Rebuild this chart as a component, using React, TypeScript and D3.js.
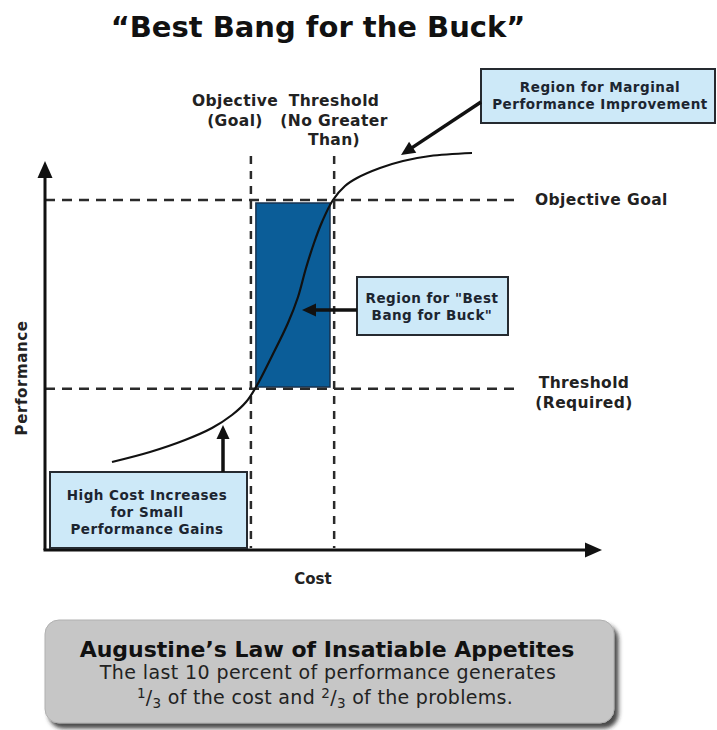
import React from "react";
import * as d3 from "d3";

// ---- data (cost / performance in arbitrary 0–100 units) ----
const curveCost = [12.07, 18.92, 25.23, 30.09, 33.69, 36.22, 38.02, 40.9, 43.78, 45.59, 47.03, 48.47, 49.91, 51.89, 54.05, 56.22, 60.36, 64.5, 69.37, 76.94];
const curvePerf = [22.0, 24.5, 27.5, 30.5, 33.75, 37.0, 40.75, 48.5, 56.75, 63.25, 70.5, 76.75, 82.0, 87.5, 91.0, 93.0, 95.5, 97.25, 98.5, 99.25];
const refCosts = [37.1, 52.1]; // Objective (Goal), Threshold (No Greater Than)
const refPerfs = [87.5, 40.3]; // Objective Goal, Threshold (Required)
const bestRegionCost = [38.0, 51.35];
const bestRegionPerf = [40.75, 86.75];

const W = 717;
const H = 730;
const FONT = "Verdana, 'DejaVu Sans', sans-serif";

export default function App() {
  const x = d3.scaleLinear().domain([0, 100]).range([45, 600]);
  const y = d3.scaleLinear().domain([0, 100]).range([550, 150]);
  const pts: [number, number][] = curveCost.map((c, i) => [c, curvePerf[i]]);
  const line = d3
    .line<[number, number]>()
    .x((d) => x(d[0]))
    .y((d) => y(d[1]))
    .curve(d3.curveCatmullRom.alpha(0.5));

  const boxFill = "#cde9f8";
  const boxStroke = "#252a30";
  const dash = "10,7";

  const arrowHead = (x1: number, y1: number, x2: number, y2: number, len = 13, half = 6) => {
    const a = Math.atan2(y2 - y1, x2 - x1);
    const bx = x2 - len * Math.cos(a);
    const by = y2 - len * Math.sin(a);
    const px = -Math.sin(a) * half;
    const py = Math.cos(a) * half;
    return `M${x2},${y2}L${bx + px},${by + py}L${bx - px},${by - py}Z`;
  };

  const Arrow = ({ x1, y1, x2, y2, w = 3.5, len = 14, half = 6.5 }: any) => {
    const a = Math.atan2(y2 - y1, x2 - x1);
    const ex = x2 - (len - 2) * Math.cos(a);
    const ey = y2 - (len - 2) * Math.sin(a);
    return (
      <g>
        <line x1={x1} y1={y1} x2={ex} y2={ey} stroke="#111" strokeWidth={w} />
        <path d={arrowHead(x1, y1, x2, y2, len, half)} fill="#111" />
      </g>
    );
  };

  const labelStyle = { fontFamily: FONT, fontWeight: 700, fill: "#222" } as const;
  const lbl = { ...labelStyle, fontSize: 15.5, letterSpacing: 0.4 };
  const boxTxt = { ...labelStyle, fontSize: 13.5, letterSpacing: 0.5, fill: "#1c2530" };

  return (
    <svg width={W} height={H} style={{ position: "absolute", left: 0, top: 0, background: "#fff" }}>
      <defs>
        <filter id="sh" x="-10%" y="-10%" width="130%" height="140%">
          <feDropShadow dx="4" dy="5" stdDeviation="2" floodColor="#2a2a2a" floodOpacity="0.85" />
        </filter>
      </defs>

      {/* Title */}
      <text x={318} y={37} textAnchor="middle" style={{ fontFamily: FONT, fontWeight: 700, fontSize: 29, fill: "#111" }}>
        “Best Bang for the Buck”
      </text>

      {/* blue region */}
      <rect
        x={x(bestRegionCost[0])}
        y={y(bestRegionPerf[1])}
        width={x(bestRegionCost[1]) - x(bestRegionCost[0])}
        height={y(bestRegionPerf[0]) - y(bestRegionPerf[1])}
        fill="#0b5d98"
        stroke="#17324f"
        strokeWidth={1.5}
      />

      {/* reference dashed lines */}
      {refPerfs.map((p, i) => (
        <line key={"h" + i} x1={x(0)} x2={518} y1={y(p)} y2={y(p)} stroke="#2a2a2a" strokeWidth={2.5} strokeDasharray={dash} />
      ))}
      {refCosts.map((c, i) => (
        <line key={"v" + i} x1={x(c)} x2={x(c)} y1={156} y2={548} stroke="#2a2a2a" strokeWidth={2.5} strokeDasharray="8,7" />
      ))}

      {/* curve */}
      <path d={line(pts) || ""} fill="none" stroke="#111" strokeWidth={2.2} />

      {/* axes */}
      <line x1={x(0)} y1={y(0)} x2={x(0)} y2={176} stroke="#111" strokeWidth={3} />
      <path d={arrowHead(x(0), 300, x(0), 161, 17, 7.5)} fill="#111" />
      <line x1={x(0) - 1.5} y1={y(0)} x2={588} y2={y(0)} stroke="#111" strokeWidth={3} />
      <path d={arrowHead(300, y(0), 602, y(0), 17, 7.5)} fill="#111" />

      {/* axis titles */}
      <text x={0} y={0} transform="translate(27,378) rotate(-90)" textAnchor="middle" style={{ ...labelStyle, fontSize: 15, letterSpacing: 0.6 }}>
        Performance
      </text>
      <text x={313} y={584} textAnchor="middle" style={{ ...labelStyle, fontSize: 15 }}>
        Cost
      </text>

      {/* vertical line labels */}
      <text textAnchor="middle" style={lbl}>
        <tspan x={235} y={106}>Objective</tspan>
        <tspan x={235} y={126}>(Goal)</tspan>
      </text>
      <text textAnchor="middle" style={lbl}>
        <tspan x={334} y={106}>Threshold</tspan>
        <tspan x={334} y={126}>(No Greater</tspan>
        <tspan x={334} y={145}>Than)</tspan>
      </text>

      {/* horizontal line labels */}
      <text x={535} y={205} style={lbl}>
        Objective Goal
      </text>
      <text textAnchor="middle" style={lbl}>
        <tspan x={584} y={388}>Threshold</tspan>
        <tspan x={584} y={408}>(Required)</tspan>
      </text>

      {/* Marginal box */}
      <rect x={481} y={69} width={234} height={54} fill={boxFill} stroke={boxStroke} strokeWidth={2} />
      <text textAnchor="middle" style={boxTxt}>
        <tspan x={600} y={92}>Region for Marginal</tspan>
        <tspan x={600} y={109}>Performance Improvement</tspan>
      </text>
      <Arrow x1={481} y1={102} x2={401} y2={155} />

      {/* Best bang box */}
      <rect x={357} y={277} width={151} height={58} fill={boxFill} stroke={boxStroke} strokeWidth={2} />
      <text textAnchor="middle" style={boxTxt}>
        <tspan x={432} y={303}>Region for "Best</tspan>
        <tspan x={432} y={320}>Bang for Buck"</tspan>
      </text>
      <Arrow x1={357} y1={310} x2={302} y2={310} />

      {/* High cost box */}
      <rect x={50} y={472} width={197} height={76} fill={boxFill} stroke={boxStroke} strokeWidth={2} />
      <text textAnchor="middle" style={boxTxt}>
        <tspan x={147} y={500}>High Cost Increases</tspan>
        <tspan x={147} y={517}>for Small</tspan>
        <tspan x={147} y={534}>Performance Gains</tspan>
      </text>
      <Arrow x1={223} y1={472} x2={223} y2={425} />

      {/* Augustine's law box */}
      <rect x={45} y={620} width={569} height={103} rx={14} fill="#c6c6c6" stroke="#b0b0b0" strokeWidth={1} filter="url(#sh)" />
      <text x={327} y={657} textAnchor="middle" style={{ fontFamily: FONT, fontWeight: 700, fontSize: 22, fill: "#111" }}>
        Augustine’s Law of Insatiable Appetites
      </text>
      <text x={328} y={679} textAnchor="middle" style={{ fontFamily: FONT, fontSize: 19, letterSpacing: 0.4, fill: "#222" }}>
        The last 10 percent of performance generates
      </text>
      <text x={325} y={704} textAnchor="middle" style={{ fontFamily: FONT, fontSize: 19, letterSpacing: 0.3, fill: "#222" }}>
        <tspan fontSize={13.5} dy={-6}>1</tspan>
        <tspan dy={6}>/</tspan>
        <tspan fontSize={13.5} dy={4}>3</tspan>
        <tspan dy={-4}> of the cost and </tspan>
        <tspan fontSize={13.5} dy={-6}>2</tspan>
        <tspan dy={6}>/</tspan>
        <tspan fontSize={13.5} dy={4}>3</tspan>
        <tspan dy={-4}> of the problems.</tspan>
      </text>
    </svg>
  );
}
